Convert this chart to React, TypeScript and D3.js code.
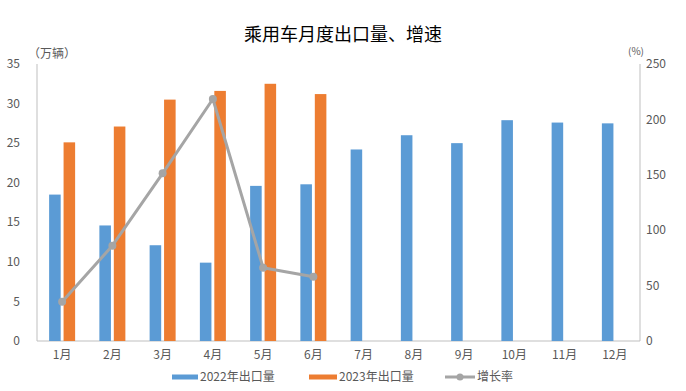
import * as d3 from 'd3';

const months = ['1月', '2月', '3月', '4月', '5月', '6月', '7月', '8月', '9月', '10月', '11月', '12月'];
const exports2022 = [18.5, 14.6, 12.1, 9.9, 19.6, 19.8, 24.2, 26.0, 25.0, 27.9, 27.6, 27.5];
const exports2023 = [25.1, 27.1, 30.5, 31.6, 32.5, 31.2];
const growth = [35.5, 86, 151.3, 218.4, 66.2, 58];
const leftTicks = [0, 5, 10, 15, 20, 25, 30, 35];
const rightTicks = [0, 50, 100, 150, 200, 250];

const W = 686;
const H = 391;
const plot = { left: 37, right: 640, top: 64, bottom: 341 };
const font = '"Noto Sans CJK SC", "Liberation Sans", sans-serif';
const blue = '#5B9BD5';
const orange = '#ED7D31';
const grey = '#A5A5A5';
const axisColor = '#BFBFBF';
const textColor = '#595959';

const App = () => {
  const x0 = d3.scaleBand().domain(months).range([plot.left, plot.right]);
  const x1 = d3.scaleBand().domain(['2022', '2023']).range([-13, 13]).paddingInner(0.2);
  const y = d3.scaleLinear().domain([0, 35]).range([plot.bottom, plot.top]);
  const yr = d3.scaleLinear().domain([0, 250]).range([plot.bottom, plot.top]);
  const cx = (m: string) => (x0(m) as number) + x0.bandwidth() / 2;

  const line = d3
    .line<number>()
    .x((d, i) => cx(months[i]))
    .y((d) => yr(d));

  return (
    <svg width={W} height={H} style={{ position: 'absolute', left: 0, top: 0, background: '#fff' }}>
      <text x={343} y={41} textAnchor="middle" fontFamily={font} fontSize={18} fill="#000">
        乘用车月度出口量、增速
      </text>

      {/* axes */}
      <line x1={plot.left} x2={plot.left} y1={plot.top} y2={plot.bottom} stroke={axisColor} strokeWidth={1} />
      <line x1={plot.right} x2={plot.right} y1={plot.top} y2={plot.bottom} stroke={axisColor} strokeWidth={1} />
      <line x1={plot.left} x2={plot.right} y1={plot.bottom} y2={plot.bottom} stroke={axisColor} strokeWidth={1} />

      <text x={52} y={58} textAnchor="middle" fontFamily={font} fontSize={12} fill={textColor}>
        （万辆）
      </text>
      <text x={644} y={55} textAnchor="end" fontFamily={font} fontSize={10} fill={textColor}>
        (%)
      </text>

      {leftTicks.map((t) => (
        <text key={'l' + t} x={20} y={y(t)} dy="0.35em" textAnchor="end" fontFamily={font} fontSize={12} fill={textColor}>
          {t}
        </text>
      ))}
      {rightTicks.map((t) => (
        <text key={'r' + t} x={646} y={yr(t)} dy="0.35em" textAnchor="start" fontFamily={font} fontSize={12} fill={textColor}>
          {t}
        </text>
      ))}
      {months.map((m) => (
        <text key={'x' + m} x={cx(m)} y={359} textAnchor="middle" fontFamily={font} fontSize={12} fill={textColor}>
          {m}
        </text>
      ))}

      {/* bars */}
      {exports2022.map((v, i) => (
        <rect
          key={'b' + i}
          x={cx(months[i]) + (x1('2022') as number)}
          y={y(v)}
          width={x1.bandwidth()}
          height={y(0) - y(v)}
          fill={blue}
        />
      ))}
      {exports2023.map((v, i) => (
        <rect
          key={'o' + i}
          x={cx(months[i]) + (x1('2023') as number)}
          y={y(v)}
          width={x1.bandwidth()}
          height={y(0) - y(v)}
          fill={orange}
        />
      ))}

      {/* growth line */}
      <path d={line(growth) as string} fill="none" stroke={grey} strokeWidth={3} strokeLinejoin="round" />
      {growth.map((v, i) => (
        <circle key={'c' + i} cx={cx(months[i])} cy={yr(v)} r={4} fill={grey} />
      ))}

      {/* legend */}
      <g fontFamily={font} fontSize={12} fill={textColor}>
        <line x1={172} x2={198} y1={377} y2={377} stroke={blue} strokeWidth={5} />
        <text x={200} y={377} dy="0.35em">2022年出口量</text>
        <line x1={309} x2={337} y1={377} y2={377} stroke={orange} strokeWidth={5} />
        <text x={339} y={377} dy="0.35em">2023年出口量</text>
        <line x1={445} x2={475} y1={377} y2={377} stroke={grey} strokeWidth={3} />
        <circle cx={460} cy={377} r={3.5} fill={grey} />
        <text x={477} y={377} dy="0.35em">增长率</text>
      </g>
    </svg>
  );
};

export default App;
